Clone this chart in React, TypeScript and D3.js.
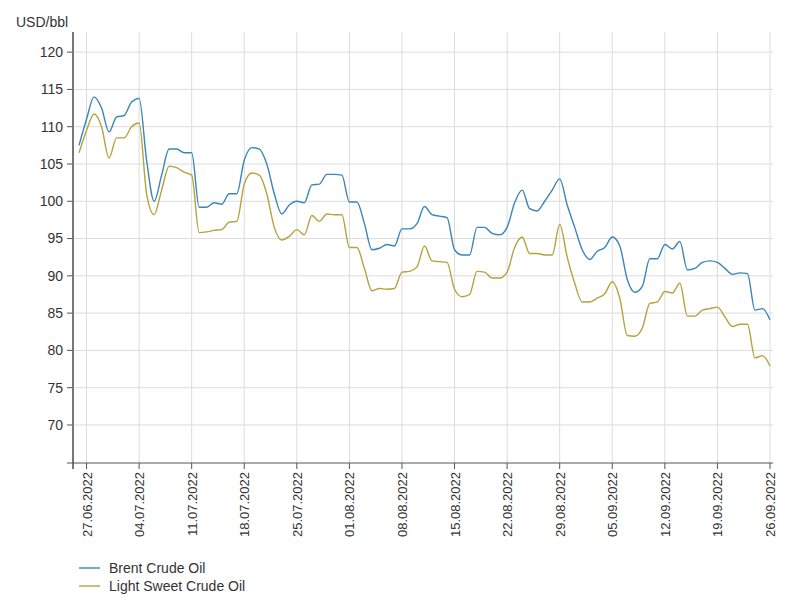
import React from "react";
import * as d3 from "d3";

const dates = ["2022-06-26","2022-06-27","2022-06-28","2022-06-29","2022-06-30","2022-07-01","2022-07-02","2022-07-03","2022-07-04","2022-07-05","2022-07-06","2022-07-07","2022-07-08","2022-07-09","2022-07-10","2022-07-11","2022-07-12","2022-07-13","2022-07-14","2022-07-15","2022-07-16","2022-07-17","2022-07-18","2022-07-19","2022-07-20","2022-07-21","2022-07-22","2022-07-23","2022-07-24","2022-07-25","2022-07-26","2022-07-27","2022-07-28","2022-07-29","2022-07-30","2022-07-31","2022-08-01","2022-08-02","2022-08-03","2022-08-04","2022-08-05","2022-08-06","2022-08-07","2022-08-08","2022-08-09","2022-08-10","2022-08-11","2022-08-12","2022-08-13","2022-08-14","2022-08-15","2022-08-16","2022-08-17","2022-08-18","2022-08-19","2022-08-20","2022-08-21","2022-08-22","2022-08-23","2022-08-24","2022-08-25","2022-08-26","2022-08-27","2022-08-28","2022-08-29","2022-08-30","2022-08-31","2022-09-01","2022-09-02","2022-09-03","2022-09-04","2022-09-05","2022-09-06","2022-09-07","2022-09-08","2022-09-09","2022-09-10","2022-09-11","2022-09-12","2022-09-13","2022-09-14","2022-09-15","2022-09-16","2022-09-17","2022-09-18","2022-09-19","2022-09-20","2022-09-21","2022-09-22","2022-09-23","2022-09-24","2022-09-25","2022-09-26"];

const brent = [107.5,111,114,112.5,109.3,111.3,111.5,113.3,113.8,105.5,100,103.5,107,107,106.5,106.5,99.2,99.2,99.8,99.6,101,101,105.5,107.2,107,105,101,98.3,99.5,100,99.8,102.2,102.3,103.6,103.6,103.5,99.9,99.9,97,93.5,93.7,94.2,94,96.3,96.3,97,99.3,98.2,98,97.8,93.5,92.8,92.8,96.5,96.5,95.7,95.5,96.5,99.8,101.5,99,98.7,100,101.5,103,99.5,96.5,93.5,92.2,93.3,93.8,95.2,94,89.5,87.8,88.6,92.3,92.3,94.2,93.6,94.6,90.8,91,91.8,92,91.8,91,90.2,90.4,90.3,85.4,85.6,84.1];

const wti = [106.5,109.5,111.7,110,105.8,108.5,108.5,110,110.5,101,98.2,101.5,104.7,104.5,103.9,103.5,95.8,95.9,96.1,96.2,97.2,97.3,102.3,103.8,103.5,101,96.5,94.8,95.3,96.2,95.5,98.1,97.3,98.3,98.2,98.2,93.8,93.8,91,88,88.3,88.2,88.3,90.5,90.6,91.2,94,92,91.9,91.8,88.2,87.2,87.5,90.6,90.5,89.7,89.7,90.5,93.8,95.2,93,93,92.8,92.8,96.9,92.5,89,86.5,86.5,87,87.6,89.2,87,82,81.9,83,86.3,86.5,87.9,87.7,89,84.6,84.6,85.4,85.6,85.8,84.5,83.2,83.5,83.5,79,79.3,77.9];

const yTicks = [70, 75, 80, 85, 90, 95, 100, 105, 110, 115, 120];
const xTickLabels = ["27.06.2022","04.07.2022","11.07.2022","18.07.2022","25.07.2022","01.08.2022","08.08.2022","15.08.2022","22.08.2022","29.08.2022","05.09.2022","12.09.2022","19.09.2022","26.09.2022"];

const seriesNames = ["Brent Crude Oil", "Light Sweet Crude Oil"];
const colors = ["#3a86b8", "#b5a33c"];

const parse = d3.timeParse("%Y-%m-%d");
const parseTick = d3.timeParse("%d.%m.%Y");

export default function App() {
  const left = 73, right = 773, top = 32, bottom = 463;
  const d0 = parseTick("27.06.2022")!;
  const day = 86400000;
  const x = d3.scaleTime()
    .domain([new Date(d0.getTime() - 1.8 * day), new Date(d0.getTime() + 91.4 * day)])
    .range([left, right]);
  const y = d3.scaleLinear().domain([64.9, 122.7]).range([bottom, top]);
  const ds = dates.map((s) => parse(s)!);
  const line = d3.line<number>().x((_, i) => x(ds[i])).y((v) => y(v)).curve(d3.curveMonotoneX);
  const font = "Arial, 'Liberation Sans', sans-serif";
  return (
    <svg width={801} height={600} style={{ position: "absolute", left: 0, top: 0, fontFamily: font }}>
      <rect width={801} height={600} fill="#fff" />
      {yTicks.map((t) => (
        <g key={t}>
          <line x1={left} x2={right} y1={y(t)} y2={y(t)} stroke="#dcdcdc" />
          <line x1={left - 6} x2={left} y1={y(t)} y2={y(t)} stroke="#555" />
          <text x={left - 10} y={y(t)} dy="0.35em" textAnchor="end" fontSize={14} fill="#333">{t}</text>
        </g>
      ))}
      {xTickLabels.map((s) => {
        const xp = x(parseTick(s)!);
        return (
          <g key={s}>
            <line x1={xp} x2={xp} y1={top} y2={bottom} stroke="#dcdcdc" />
            <line x1={xp} x2={xp} y1={bottom} y2={bottom + 6} stroke="#555" />
            <text transform={`translate(${xp + 5},${bottom + 9}) rotate(-90)`} textAnchor="end" fontSize={13} fill="#333">{s}</text>
          </g>
        );
      })}
      <line x1={left} x2={left} y1={top} y2={bottom + 6} stroke="#777" strokeWidth={2} />
      <line x1={left - 6} x2={right} y1={bottom} y2={bottom} stroke="#555" />
      <text x={16} y={27} fontSize={14} fill="#333">USD/bbl</text>
      <path d={line(wti) || ""} fill="none" stroke={colors[1]} strokeWidth={1.4} />
      <path d={line(brent) || ""} fill="none" stroke={colors[0]} strokeWidth={1.4} />
      {seriesNames.map((n, i) => (
        <g key={n} transform={`translate(79,${568 + i * 18})`}>
          <line x1={0} x2={21} y1={0} y2={0} stroke={colors[i]} strokeWidth={1.4} />
          <text x={30} y={0} dy="0.35em" fontSize={14} fill="#333">{n}</text>
        </g>
      ))}
    </svg>
  );
}
